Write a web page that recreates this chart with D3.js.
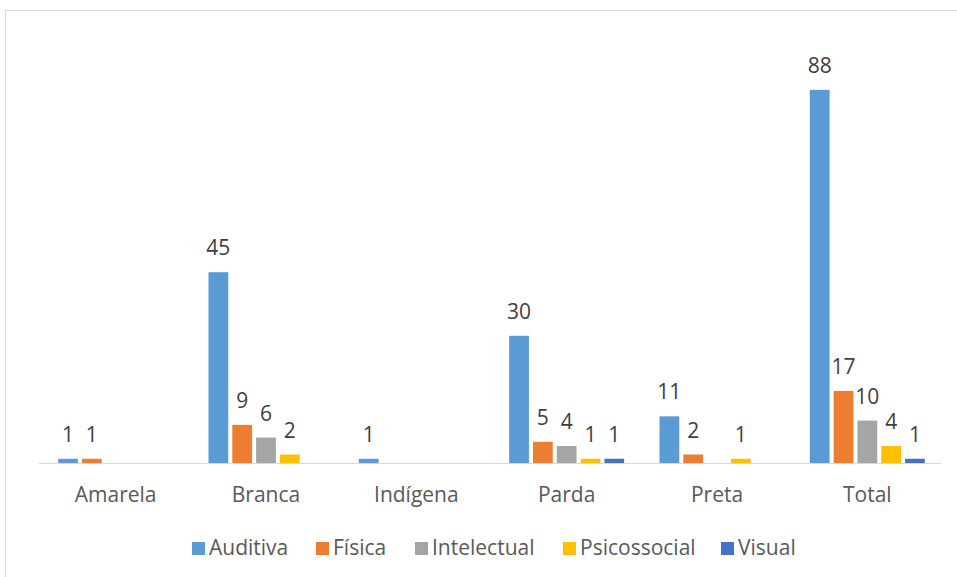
<!DOCTYPE html>
<html><head><meta charset="utf-8">
<script src="https://cdn.jsdelivr.net/npm/d3@7"></script>
<style>body{margin:0;background:#fff}svg{display:block}</style>
</head><body>
<svg id="c" width="957" height="577"></svg>
<script>
const categories = ["Amarela","Branca","Indígena","Parda","Preta","Total"];
const seriesNames = ["Auditiva","Física","Intelectual","Psicossocial","Visual"];
const auditiva = [1,45,1,30,11,88];
const fisica = [1,9,0,5,2,17];
const intelectual = [0,6,0,4,0,10];
const psicossocial = [0,2,0,1,1,4];
const visual = [0,0,0,1,0,1];
const colors = ["#5b9bd5","#ed7d31","#a5a5a5","#ffc000","#4472c4"];
const values = [auditiva,fisica,intelectual,psicossocial,visual];

const svg = d3.select("#c");
const font = "'Open Sans', sans-serif";
const textColor = "#595959";
const fs = 21;

// chart border
svg.append("rect").attr("x",5.5).attr("y",10.5).attr("width",960).attr("height",580)
  .attr("fill","none").attr("stroke","#d9d9d9").attr("stroke-width",1);

const x0 = d3.scaleBand().domain(categories).range([40.5,942.5]).paddingInner(0.235).paddingOuter(0.1175);
const x1 = d3.scaleBand().domain(seriesNames).range([0,x0.bandwidth()]).paddingInner(0.17).paddingOuter(0);
const y = d3.scaleLinear().domain([0,100]).range([463,39]);

const data = [];
categories.forEach((c,i)=>seriesNames.forEach((s,j)=>data.push({c,s,j,v:values[j][i]})));

svg.append("g").selectAll("rect").data(data.filter(d=>d.v>0)).join("rect")
  .attr("x",d=>x0(d.c)+x1(d.s)).attr("width",x1.bandwidth())
  .attr("y",d=>y(d.v)).attr("height",d=>y(0)-y(d.v))
  .attr("fill",d=>colors[d.j]);

// axis line
svg.append("line").attr("x1",39).attr("x2",941).attr("y1",463.5).attr("y2",463.5)
  .attr("stroke","#d9d9d9").attr("stroke-width",1);

// data labels
svg.append("g").selectAll("text").data(data.filter(d=>d.v>0)).join("text")
  .attr("x",d=>x0(d.c)+x1(d.s)+x1.bandwidth()/2).attr("y",d=>y(d.v)-17)
  .attr("text-anchor","middle").attr("font-family",font).attr("font-size",fs)
  .attr("fill","#404040").text(d=>d.v);

// category labels
const xAxis = d3.axisBottom(x0).tickSize(0).tickPadding(0);
const gx = svg.append("g").attr("transform","translate(0,463)").call(xAxis);
gx.select(".domain").remove();
gx.selectAll("text").attr("font-family",font).attr("font-size",fs).attr("fill",textColor)
  .attr("dy",null).attr("y",39);

// legend
const legendX = [192,316,415,563,721];
const lg = svg.append("g").selectAll("g").data(seriesNames).join("g")
  .attr("transform",(d,i)=>`translate(${legendX[i]},542)`);
lg.append("rect").attr("width",13).attr("height",13).attr("fill",(d,i)=>colors[i]);
lg.append("text").attr("x",17).attr("y",13).attr("font-family",font).attr("font-size",fs)
  .attr("fill",textColor).text(d=>d);
</script>
</body></html>
